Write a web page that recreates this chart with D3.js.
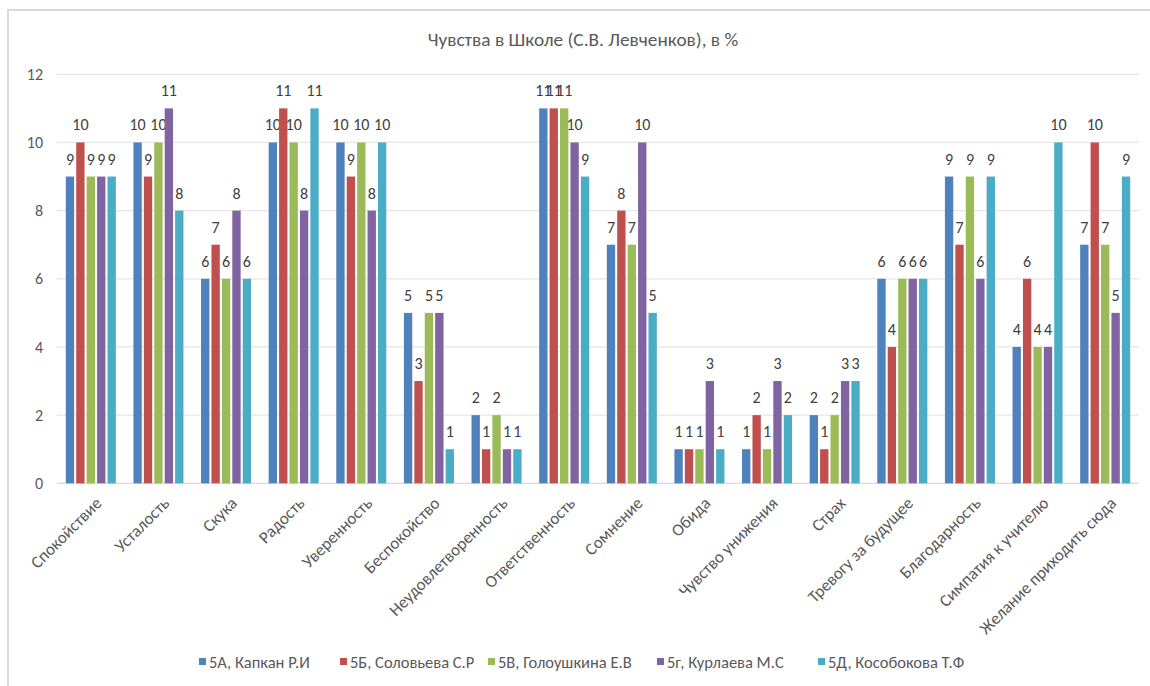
<!DOCTYPE html>
<html><head><meta charset="utf-8">
<script src="https://cdn.jsdelivr.net/npm/d3@7"></script>
<style>
body{margin:0;background:#fff;}
text{font-family:Carlito,"Liberation Sans Narrow","Open Sans",sans-serif;}
</style></head>
<body><svg id="c" width="1150" height="686"></svg>
<script>
const categories = ["Спокойствие","Усталость","Скука","Радость","Уверенность","Беспокойство","Неудовлетворенность","Ответственность","Сомнение","Обида","Чувство унижения","Страх","Тревогу за будущее","Благодарность","Симпатия к учителю","Желание приходить сюда"];
const seriesNames = ["5А, Капкан Р.И","5Б, Соловьева С.Р","5В, Голоушкина Е.В","5г, Курлаева М.С","5Д, Кособокова Т.Ф"];
const s5A = [9,10,6,10,10,5,2,11,7,1,1,2,6,9,4,7];
const s5B = [10,9,7,11,9,3,1,11,8,1,2,1,4,7,6,10];
const s5V = [9,10,6,10,10,5,2,11,7,1,1,2,6,9,4,7];
const s5G = [9,11,8,8,8,5,1,10,10,3,3,3,6,6,4,5];
const s5D = [9,8,6,11,10,1,1,9,5,1,2,3,6,9,10,9];
const yTicks = [0,2,4,6,8,10,12];
const colors = ["#4F81BD","#C0504D","#9BBB59","#8064A2","#4BACC6"];
const title = "Чувства в Школе (С.В. Левченков), в %";

const series = [s5A,s5B,s5V,s5G,s5D];
const svg = d3.select("#c");
svg.append("rect").attr("x",8).attr("y",10).attr("width",1200).attr("height",700)
  .attr("fill","#fff").attr("stroke","#d9d9d9").attr("stroke-width",2);

const pL=57,pR=1139,pT=74.3,pB=483.3;
const x0 = d3.scaleBand().domain(categories).range([pL,pR]).paddingInner(0.26).paddingOuter(0.13);
const x1 = d3.scaleBand().domain(d3.range(5)).range([0,x0.bandwidth()]).paddingInner(0.2);
const y = d3.scaleLinear().domain([0,12]).range([pB,pT]);

svg.append("g").selectAll("line").data(yTicks).join("line")
  .attr("x1",pL).attr("x2",pR).attr("y1",d=>y(d)).attr("y2",d=>y(d))
  .attr("stroke",d=>d===0?"#d9d9d9":"#e6e6e6").attr("stroke-width",1.3);
svg.append("g").selectAll("text").data(yTicks).join("text")
  .attr("x",43).attr("y",d=>y(d)).attr("dy","0.35em").attr("text-anchor","end")
  .attr("font-size",16).attr("fill","#595959").text(d=>d);

const g = svg.append("g");
categories.forEach((c,i)=>{
  series.forEach((s,j)=>{
    const xx = x0(c)+x1(j);
    g.append("rect").attr("x",xx).attr("y",y(s[i])).attr("width",x1.bandwidth())
      .attr("height",pB-y(s[i])).attr("fill",colors[j]);
    g.append("text").attr("x",xx+x1.bandwidth()/2).attr("y",y(s[i])-12)
      .attr("text-anchor","middle").attr("font-size",16).attr("fill","#404040").text(s[i]);
  });
  const cx = x0(c)+x0.bandwidth()/2;
  svg.append("text").attr("transform",`translate(${cx+12},${pB+21}) rotate(-45)`)
    .attr("text-anchor","end").attr("font-size",17).attr("fill","#595959").text(c);
});

svg.append("text").attr("x",583).attr("y",46).attr("text-anchor","middle")
  .attr("font-size",19.3).attr("fill","#595959").text(title);

const legX = [199,340,488,657,818];
const lg = svg.append("g");
seriesNames.forEach((n,j)=>{
  lg.append("rect").attr("x",legX[j]).attr("y",658).attr("width",7).attr("height",7).attr("fill",colors[j]);
  lg.append("text").attr("x",legX[j]+10).attr("y",662).attr("dy","0.35em").attr("font-size",16.5)
    .attr("fill","#595959").text(n);
});
</script></body></html>
